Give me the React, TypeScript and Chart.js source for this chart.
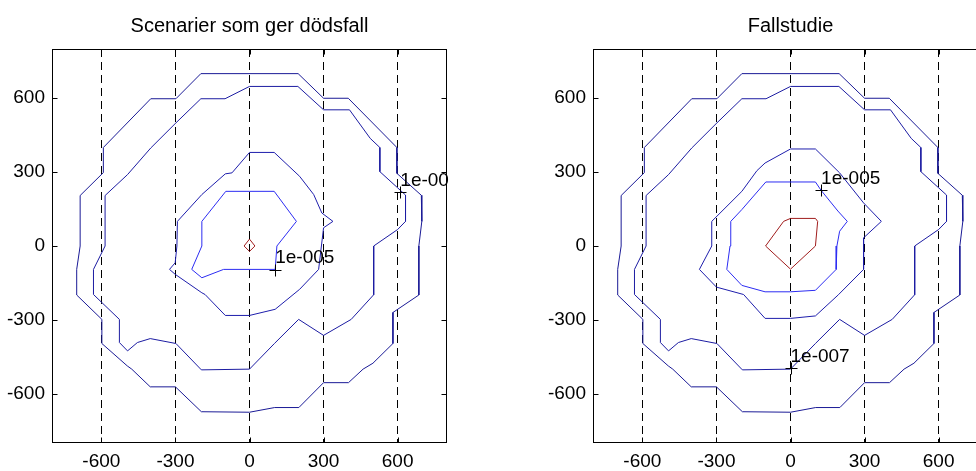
import React, { useEffect, useRef } from 'react';
import { Chart, registerables } from 'chart.js';

Chart.register(...registerables);
Chart.defaults.font.family = "'Liberation Sans', Arial, sans-serif";

// ---------- data ----------
const tickValues = [-600, -300, 0, 300, 600];
const axisMin = -800;
const axisMax = 800;

const panelTitles = ['Scenarier som ger dödsfall', 'Fallstudie'];

// outermost contour (same in both panels)
const outerContour: [number, number][] = [
  [-197, 700], [197, 700], [300, 600], [400, 600], [597, 400], [597, 295], [696, 206], [698, 100],
  [686, 0], [686, -199], [581, -270], [581, -396], [500, -476], [460, -500], [401, -555], [300, -555],
  [200, -656], [102, -656], [0, -675], [-195, -673], [-300, -572], [-402, -572], [-477, -500],
  [-495, -487], [-598, -396], [-598, -298], [-700, -199], [-700, -95], [-686, 0], [-686, 205],
  [-592, 298], [-592, 400], [-400, 598], [-298, 598], [-197, 700],
];

// second contour (same in both panels)
const secondContour: [number, number][] = [
  [0, 648], [196, 648], [300, 553], [405, 553], [489, 437], [528, 400], [528, 302], [632, 207],
  [632, 100], [600, 67], [503, 0], [503, -198], [412, -298], [300, -363], [199, -298], [101, -396],
  [0, -500], [-195, -503], [-298, -396], [-402, -376], [-454, -392], [-494, -426], [-527, -392],
  [-527, -298], [-632, -197], [-632, -95], [-585, 0], [-585, 205], [-494, 290], [-400, 398],
  [-298, 500], [-197, 598], [-99, 598], [0, 648],
];

// left panel inner contours
const leftThird: [number, number][] = [
  [0, 380], [100, 380], [203, 283], [260, 209], [293, 134], [338, 100], [300, 74], [280, -95],
  [203, -176], [104, -257], [0, -282], [-98, -282], [-180, -197], [-193, -190], [-301, -115],
  [-324, -95], [-301, -68], [-294, 0], [-292, 100], [-193, 209], [-98, 293], [-71, 297], [0, 380],
];
const leftFourth: [number, number][] = [
  [-96, 222], [100, 222], [190, 100], [111, 0], [104, -95], [-105, -95], [-193, -129], [-234, -95],
  [-193, 0], [-193, 100], [-96, 222],
];
const leftCore: [number, number][] = [[0, 28], [22, 0], [0, -22], [-22, 0], [0, 28]];

// right panel inner contours
const rightThird: [number, number][] = [
  [0, 394], [101, 394], [199, 297], [296, 175], [368, 100], [296, 33], [296, -95], [194, -198],
  [101, -284], [0, -294], [-103, -294], [-190, -197], [-300, -167], [-369, -95], [-319, 0],
  [-319, 100], [-197, 222], [-136, 306], [-103, 337], [0, 394],
];
const rightFourth: [number, number][] = [
  [-100, 260], [101, 260], [124, 226], [192, 142], [230, 100], [199, 60], [188, 0], [185, -95],
  [101, -180], [0, -186], [-103, -186], [-197, -160], [-258, -95], [-245, 0], [-242, 100],
  [-197, 148], [-100, 260],
];
const rightCore: [number, number][] = [
  [-101, 0], [-28, 100], [0, 112], [101, 112], [110, 100], [101, 0], [0, -94], [-101, 0],
];

const contourColors = ['#1a1a96', '#1c1ca2', '#1e1eac', '#2c2cf2', '#a01c1c'];

const leftMarkers: [number, number][] = [[611, 218], [104, -97]];
const leftLabelTexts = ['1e-006', '1e-005'];
const rightMarkers: [number, number][] = [[124, 226], [0, -497]];
const rightLabelTexts = ['1e-005', '1e-007'];

const panels = [
  { title: panelTitles[0], contours: [outerContour, secondContour, leftThird, leftFourth, leftCore], markers: leftMarkers, texts: leftLabelTexts },
  { title: panelTitles[1], contours: [outerContour, secondContour, rightThird, rightFourth, rightCore], markers: rightMarkers, texts: rightLabelTexts },
];

// ---------- plugin: box, inward ticks, contour label markers and texts ----------
const framePlugin = {
  id: 'frame',
  afterDatasetsDraw(chart: any, _args: any, opts: any) {
    const { ctx, chartArea: a, scales } = chart;
    const x = scales.x;
    const y = scales.y;
    ctx.save();
    ctx.setLineDash([]);
    ctx.strokeStyle = '#000';
    ctx.lineWidth = 1;
    const L = Math.round(a.left) + 0.5;
    const R = Math.round(a.right) - 0.5;
    const T = Math.round(a.top) + 0.5;
    const B = Math.round(a.bottom) - 0.5;
    ctx.strokeRect(L, T, R - L, B - T);
    ctx.beginPath();
    for (const v of tickValues) {
      const px = Math.round(x.getPixelForValue(v)) + 0.5;
      ctx.moveTo(px, B); ctx.lineTo(px, B - 5);
      ctx.moveTo(px, T); ctx.lineTo(px, T + 5);
      const py = Math.round(y.getPixelForValue(v)) + 0.5;
      ctx.moveTo(L, py); ctx.lineTo(L + 5, py);
      ctx.moveTo(R, py); ctx.lineTo(R - 5, py);
    }
    ctx.stroke();

    ctx.beginPath();
    ctx.rect(a.left, a.top, a.right - a.left + 1.5, a.bottom - a.top);
    ctx.clip();
    // "+" markers
    ctx.beginPath();
    (opts.markers || []).forEach((m: [number, number]) => {
      const px = Math.round(x.getPixelForValue(m[0])) + 0.5;
      const py = Math.round(y.getPixelForValue(m[1])) + 0.5;
      ctx.moveTo(px - 6, py); ctx.lineTo(px + 6, py);
      ctx.moveTo(px, py - 6); ctx.lineTo(px, py + 6);
    });
    ctx.stroke();
    ctx.fillStyle = '#000';
    ctx.font = "19px 'Liberation Sans', Arial, sans-serif";
    ctx.textAlign = 'left';
    ctx.textBaseline = 'alphabetic';
    (opts.markers || []).forEach((m: [number, number], i: number) => {
      ctx.fillText(opts.texts[i], x.getPixelForValue(m[0]), y.getPixelForValue(m[1]) - 6.5);
    });
    ctx.restore();
  },
};

function setTicks(scale: any) {
  scale.ticks = tickValues.map((v) => ({ value: v }));
}

function makeConfig(p: typeof panels[number]): any {
  const datasets: any[] = p.contours.map((c, i) => ({
    data: c.map(([x, y]) => ({ x, y })),
    showLine: true,
    borderColor: contourColors[i],
    backgroundColor: contourColors[i],
    borderWidth: 1,
    pointRadius: 0,
    pointHoverRadius: 0,
    fill: false,
    tension: 0,
  }));
  return {
    type: 'scatter',
    data: { datasets },
    options: {
      responsive: false,
      animation: false,
      devicePixelRatio: 1,
      events: [],
      layout: { padding: { left: 0, right: 43, top: 0, bottom: 0 } },
      plugins: {
        legend: { display: false },
        tooltip: { enabled: false },
        title: {
          display: true,
          text: p.title,
          fullSize: false,
          color: '#000',
          font: { size: 20, weight: 'normal' },
          padding: { top: 14, bottom: 11 },
        },
        frame: { markers: p.markers, texts: p.texts },
      },
      scales: {
        x: {
          type: 'linear',
          min: axisMin,
          max: axisMax,
          afterBuildTicks: setTicks,
          afterFit: (s: any) => { s.height = 28; },
          grid: { display: true, color: '#000', lineWidth: 1, drawTicks: false },
          border: { display: false, dash: [8, 5] },
          ticks: { color: '#000', font: { size: 19 }, padding: 7, maxRotation: 0, autoSkip: false },
        },
        y: {
          type: 'linear',
          min: axisMin,
          max: axisMax,
          afterBuildTicks: setTicks,
          afterFit: (s: any) => { s.width = 52; },
          grid: { display: false, drawTicks: false },
          border: { display: false },
          ticks: { color: '#000', font: { size: 19 }, padding: 7, autoSkip: false },
        },
      },
    },
    plugins: [framePlugin],
  };
}

export default function App() {
  const leftRef = useRef<HTMLCanvasElement>(null);
  const rightRef = useRef<HTMLCanvasElement>(null);
  useEffect(() => {
    const c1 = new Chart(leftRef.current as HTMLCanvasElement, makeConfig(panels[0]));
    const c2 = new Chart(rightRef.current as HTMLCanvasElement, makeConfig(panels[1]));
    return () => { c1.destroy(); c2.destroy(); };
  }, []);
  return (
    <div style={{ position: 'fixed', left: 0, top: 0, width: 976, height: 471, overflow: 'hidden', background: '#fff' }}>
      <canvas ref={leftRef} width={490} height={471} style={{ position: 'absolute', left: 0, top: 0, width: 490, height: 471 }} />
      <canvas ref={rightRef} width={490} height={471} style={{ position: 'absolute', left: 541, top: 0, width: 490, height: 471 }} />
    </div>
  );
}
